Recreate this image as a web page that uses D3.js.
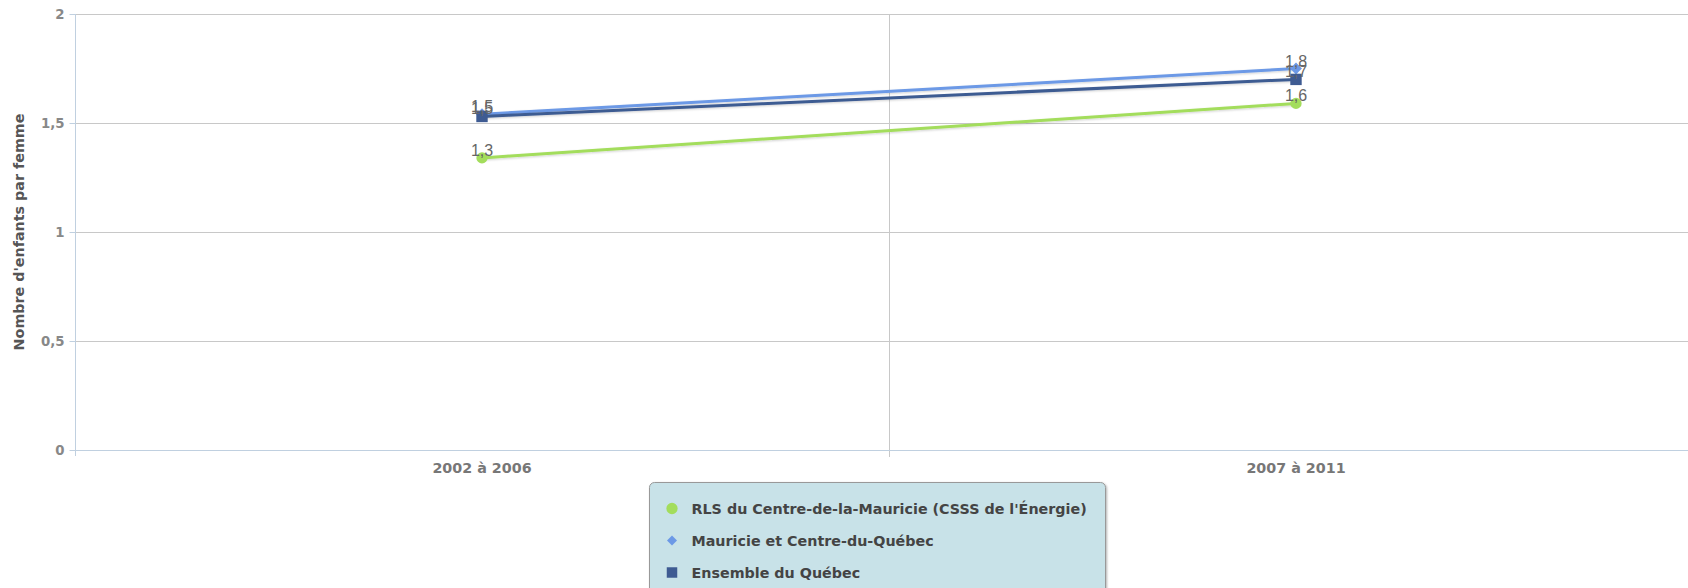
<!DOCTYPE html>
<html><head><meta charset="utf-8">
<script src="https://cdn.jsdelivr.net/npm/d3@7"></script>
<style>
html,body{margin:0;padding:0;background:#fff;}
svg{display:block;}
</style></head>
<body>
<svg id="chart" width="1688" height="588"></svg>
<script>
const categories = ["2002 à 2006", "2007 à 2011"];
const seriesNames = ["RLS du Centre-de-la-Mauricie (CSSS de l'Énergie)", "Mauricie et Centre-du-Québec", "Ensemble du Québec"];
const rlsValues = [1.34, 1.59];
const regionValues = [1.54, 1.75];
const quebecValues = [1.53, 1.70];
const yTicks = [0, 0.5, 1, 1.5, 2];
const yTitle = "Nombre d'enfants par femme";

(function () {
const colors = ["#a3dd5c", "#6c99e6", "#3e5b92"];
const symbols = [d3.symbolCircle, d3.symbolSquare, d3.symbolSquare];
const rot = [0, 45, 0];
const series = [rlsValues, regionValues, quebecValues];

const svg = d3.select("#chart");
const pL = 75, pR = 1703, pT = 14, pB = 450;
const FS = 14.3;

const x = d3.scaleBand().domain(categories).range([pL, pR]).padding(0);
const y = d3.scaleLinear().domain([0, 2]).range([pB, pT]);
const fmt = v => d3.format(".1f")(v).replace(".", ",");

const defs = svg.append("defs");
const f = defs.append("filter").attr("id","sh").attr("x","-10%").attr("y","-50%").attr("width","120%").attr("height","200%");
f.append("feDropShadow").attr("dx",1).attr("dy",1).attr("stdDeviation",1).attr("flood-color","#000").attr("flood-opacity",0.18);
const f2 = defs.append("filter").attr("id","lsh").attr("x","-10%").attr("y","-10%").attr("width","120%").attr("height","130%");
f2.append("feDropShadow").attr("dx",1).attr("dy",1).attr("stdDeviation",1.2).attr("flood-color","#000").attr("flood-opacity",0.3);

svg.append("g").selectAll("line").data(yTicks).join("line")
  .attr("x1", pL).attr("x2", 1688)
  .attr("y1", d => Math.round(y(d)) + 0.5).attr("y2", d => Math.round(y(d)) + 0.5)
  .attr("stroke", "#c8c8c8").attr("stroke-width", 1);

const boundary = x(categories[1]);
svg.append("line").attr("x1", boundary + 0.5).attr("x2", boundary + 0.5)
  .attr("y1", pT).attr("y2", pB + 7).attr("stroke", "#c8c8c8");

const yAxis = svg.append("g").attr("transform", `translate(${pL + 0.5},0)`)
  .call(d3.axisLeft(y).tickValues(yTicks).tickFormat(d => d % 1 === 0 ? String(d) : fmt(d)).tickSize(6).tickPadding(5));
yAxis.select(".domain").attr("stroke", "#c0d0e0").attr("d", `M0,${pT}V${pB}`);
yAxis.selectAll(".tick line").attr("stroke", "#c0d0e0");
yAxis.selectAll(".tick text").attr("fill", "#888").attr("font-family", "DejaVu Sans").attr("font-weight", "bold").attr("font-size", FS - 1);

const xAxis = svg.append("g").attr("transform", `translate(0,${pB + 0.5})`)
  .call(d3.axisBottom(x).tickSize(0).tickPadding(12));
xAxis.select(".domain").attr("stroke", "#c0d0e0").attr("d", `M${pL},0H1688`);
xAxis.selectAll(".tick text").attr("fill", "#777").attr("font-family", "DejaVu Sans").attr("font-weight", "bold").attr("font-size", FS);
svg.append("line").attr("x1", pL + 0.5).attr("x2", pL + 0.5).attr("y1", pB).attr("y2", pB + 6).attr("stroke", "#c0d0e0");

svg.append("text").attr("transform", `translate(24,${(pT + pB) / 2}) rotate(-90)`)
  .attr("text-anchor", "middle").attr("font-family", "DejaVu Sans").attr("font-weight", "bold")
  .attr("font-size", FS).attr("fill", "#555").text(yTitle);

const cx = c => x(c) + x.bandwidth() / 2;
const line = d3.line().x((d, i) => cx(categories[i])).y(d => y(d));

series.forEach((vals, si) => {
  const g = svg.append("g");
  g.append("path").datum(vals).attr("d", line).attr("fill", "none")
    .attr("stroke", colors[si]).attr("stroke-width", 3).attr("filter", "url(#sh)");
  g.selectAll("path.m").data(vals).join("path").attr("class", "m")
    .attr("transform", (d, i) => `translate(${cx(categories[i])},${y(d)}) rotate(${rot[si]})`)
    .attr("d", d3.symbol().type(symbols[si]).size(si === 0 ? 100 : si === 1 ? 70 : 130))
    .attr("fill", colors[si]);
});
series.forEach((vals, si) => {
  svg.append("g").selectAll("text").data(vals).join("text")
    .attr("x", (d, i) => cx(categories[i]))
    .attr("y", d => y(d) - 2)
    .attr("text-anchor", "middle").attr("font-family", "Liberation Sans").attr("font-size", 16)
    .attr("fill", "#666").text(d => fmt(d));
});

const lg = svg.append("g").attr("transform", "translate(649.5,482.5)");
lg.append("rect").attr("width", 456).attr("height", 120).attr("rx", 5)
  .attr("fill", "#c8e2e8").attr("stroke", "#999").attr("stroke-width", 1).attr("filter", "url(#lsh)");
seriesNames.forEach((n, i) => {
  const yy = 26 + i * 32;
  lg.append("path").attr("transform", `translate(22.5,${yy}) rotate(${rot[i]})`)
    .attr("d", d3.symbol().type(symbols[i]).size(i === 0 ? 100 : i === 1 ? 50 : 110)).attr("fill", colors[i]);
  lg.append("text").attr("x", 42).attr("y", yy + 5).attr("font-family", "DejaVu Sans").attr("font-weight", "bold")
    .attr("font-size", FS).attr("fill", "#444").text(n);
});
})();
</script>
</body></html>
